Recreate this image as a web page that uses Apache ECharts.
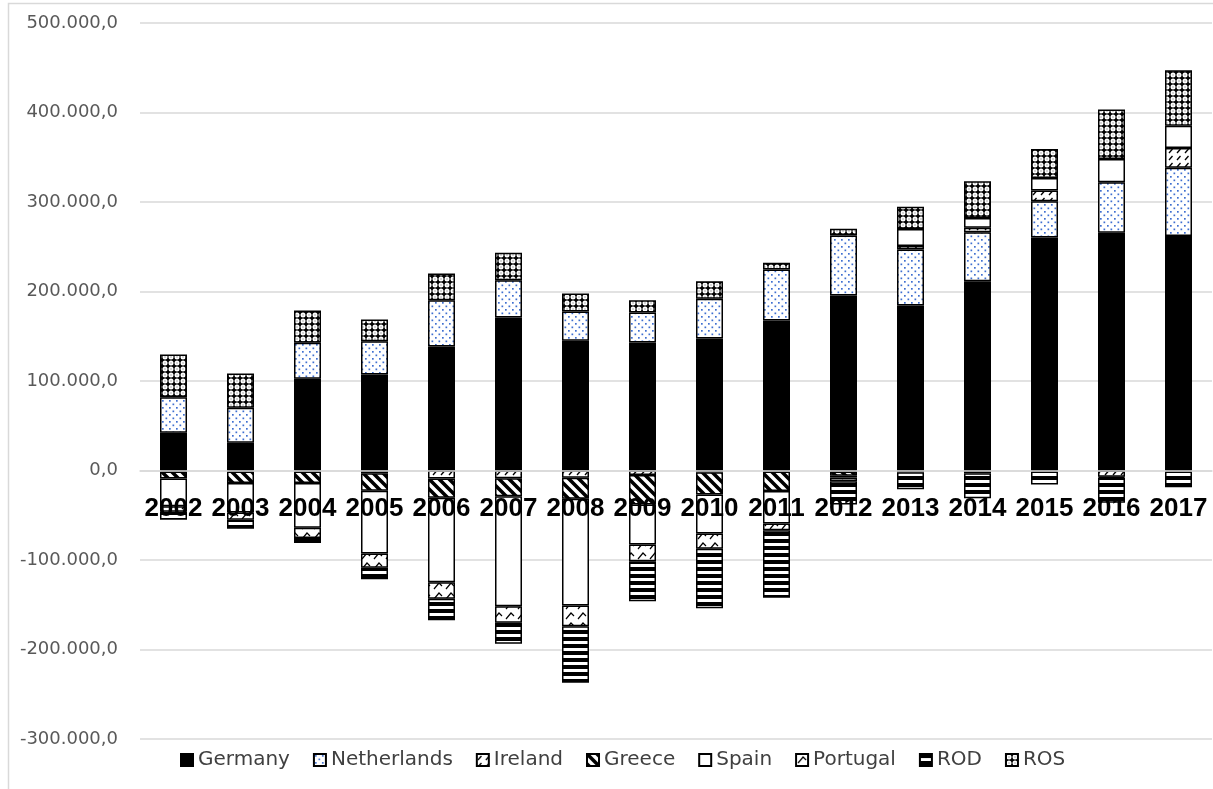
<!DOCTYPE html>
<html><head><meta charset="utf-8">
<script src="https://cdn.jsdelivr.net/npm/echarts@6/dist/echarts.min.js"></script>
<style>html,body{margin:0;padding:0;background:#fff}#chart{width:1213px;height:789px}</style>
</head><body><div id="chart"></div>
<script>
const years = ['2002','2003','2004','2005','2006','2007','2008','2009','2010','2011','2012','2013','2014','2015','2016','2017'];
const germany     = [42100, 30900, 102400, 107300, 138500, 171000, 145000, 143000, 147500, 167600, 195500, 184400, 211500, 260300, 265600, 262000];
const netherlands = [39800, 39100, 40300, 37200, 51800, 41600, 32600, 33500, 44300, 57000, 67000, 62500, 54700, 40600, 56400, 76200];
const ireland     = [-1000, -1000, -1000, -3000, -8900, -8700, -8000, -5000, -2000, -1000, -1000, 4000, 5000, 12000, -7000, 22000];
const greece      = [-8000, -13000, -13000, -19600, -21600, -20000, -23600, -33000, -24800, -22000, -5000, -2000, -3000, -1000, -1000, -1000];
const spain       = [-31000, -33000, -50000, -70000, -94300, -122900, -119200, -44700, -43600, -36200, -2000, 19000, 11000, 14000, 26000, 25000];
const portugal    = [-6000, -8000, -11500, -16000, -18600, -18600, -23200, -18600, -17100, -7500, -4000, null, null, null, null, null];
const rod         = [-9000, -10000, -5500, -13000, -23800, -23500, -63200, -44700, -66500, -75600, -26000, -19000, -28000, -14600, -28000, -17600];
const ros         = [47700, 38400, 36000, 24200, 29800, 30600, 20200, 13800, 19700, 7400, 7500, 24700, 41000, 32400, 55400, 62000];
const seriesNames = ['Germany','Netherlands','Ireland','Greece','Spain','Portugal','ROD','ROS'];
const yTicks = {min: -300000, max: 500000, interval: 100000};

const GRID = {left: 140, right: 1, top: 23, bottom: 50};
const gridHeight = 789 - GRID.top - GRID.bottom;
// move the category axis up to the value 0 of the value axis
const zeroOffset = -(0 - yTicks.min) / (yTicks.max - yTicks.min) * gridHeight;

function tile(w, h, draw) {
  const c = document.createElement('canvas');
  c.width = w; c.height = h;
  const g = c.getContext('2d');
  g.fillStyle = '#fff'; g.fillRect(0, 0, w, h);
  draw(g);
  return {image: c, repeat: 'repeat'};
}
const fills = {
  Germany: '#000000',
  Netherlands: tile(7, 7, g => { g.fillStyle = '#3f6fd0'; g.fillRect(1, 1, 1.7, 1.7); g.fillRect(4.5, 4.5, 1.7, 1.7); }),
  Ireland: tile(8, 7, g => { g.strokeStyle = '#000'; g.lineWidth = 1.3; g.beginPath(); g.moveTo(1, 6); g.lineTo(4.5, 2); g.stroke(); }),
  Greece: tile(10, 10, g => { g.strokeStyle = '#000'; g.lineWidth = 3.6; g.beginPath();
      for (const x0 of [-10, 0, 10]) { g.moveTo(x0 - 2, -2); g.lineTo(x0 + 12, 12); } g.stroke(); }),
  Spain: '#ffffff',
  Portugal: tile(12, 10, g => { g.strokeStyle = '#000'; g.lineWidth = 1.2; g.beginPath();
      g.moveTo(2, 9); g.lineTo(7, 3); g.lineTo(10, 6); g.stroke(); }),
  ROD: tile(4, 7, g => { g.fillStyle = '#000'; g.fillRect(0, 0, 4, 4); }),
  ROS: tile(6, 6, g => { g.fillStyle = '#000'; g.fillRect(0, 0, 6, 6); g.fillStyle = '#fff';
      g.beginPath(); g.arc(3, 3, 2.5, 0, Math.PI * 2); g.fill(); g.fillStyle = '#000'; g.fillRect(2.6, 2.6, 0.8, 0.8); })
};
const dataBySeries = [germany, netherlands, ireland, greece, spain, portugal, rod, ros];

function fmt(v) {
  const neg = v < 0; let s = String(Math.abs(Math.round(v)));
  s = s.replace(/\B(?=(\d{3})+(?!\d))/g, '.');
  return (neg ? '-' : '') + s + ',0';
}

const chart = echarts.init(document.getElementById('chart'), null, {renderer: 'canvas'});
chart.setOption({
  animation: false,
  backgroundColor: '#fff',
  graphic: [{type: 'rect', shape: {x: 8.5, y: 3.5, width: 1400, height: 1000}, style: {fill: 'none', stroke: '#d9d9d9', lineWidth: 1.5}, silent: true, z: -1}],
  grid: Object.assign({containLabel: false}, GRID),
  legend: {
    data: seriesNames, left: 175, top: 745, itemWidth: 12, itemHeight: 12, itemGap: 23, icon: 'rect',
    textStyle: {fontFamily: 'DejaVu Sans', fontSize: 20, color: '#404040'}
  },
  xAxis: {
    type: 'category', data: years, z: 10, offset: zeroOffset,
    axisLine: {show: true, onZero: false, lineStyle: {color: '#d9d9d9', width: 1.5}},
    axisTick: {show: false},
    axisLabel: {margin: 25, fontFamily: 'Liberation Sans', fontWeight: 'bold', fontSize: 26, color: '#000', interval: 0}
  },
  yAxis: {
    type: 'value', min: yTicks.min, max: yTicks.max, interval: yTicks.interval,
    axisLine: {show: false}, axisTick: {show: false},
    splitLine: {lineStyle: {color: '#d9d9d9', width: 1.5}},
    axisLabel: {margin: 22, fontFamily: 'DejaVu Sans', fontSize: 18, color: '#595959', formatter: fmt}
  },
  series: seriesNames.map((n, i) => ({
    name: n, type: 'bar', stack: 'total', barWidth: 27,
    data: dataBySeries[i],
    itemStyle: {color: fills[n], borderColor: '#000', borderWidth: 1.5},
    emphasis: {disabled: true}
  }))
});
</script></body></html>
